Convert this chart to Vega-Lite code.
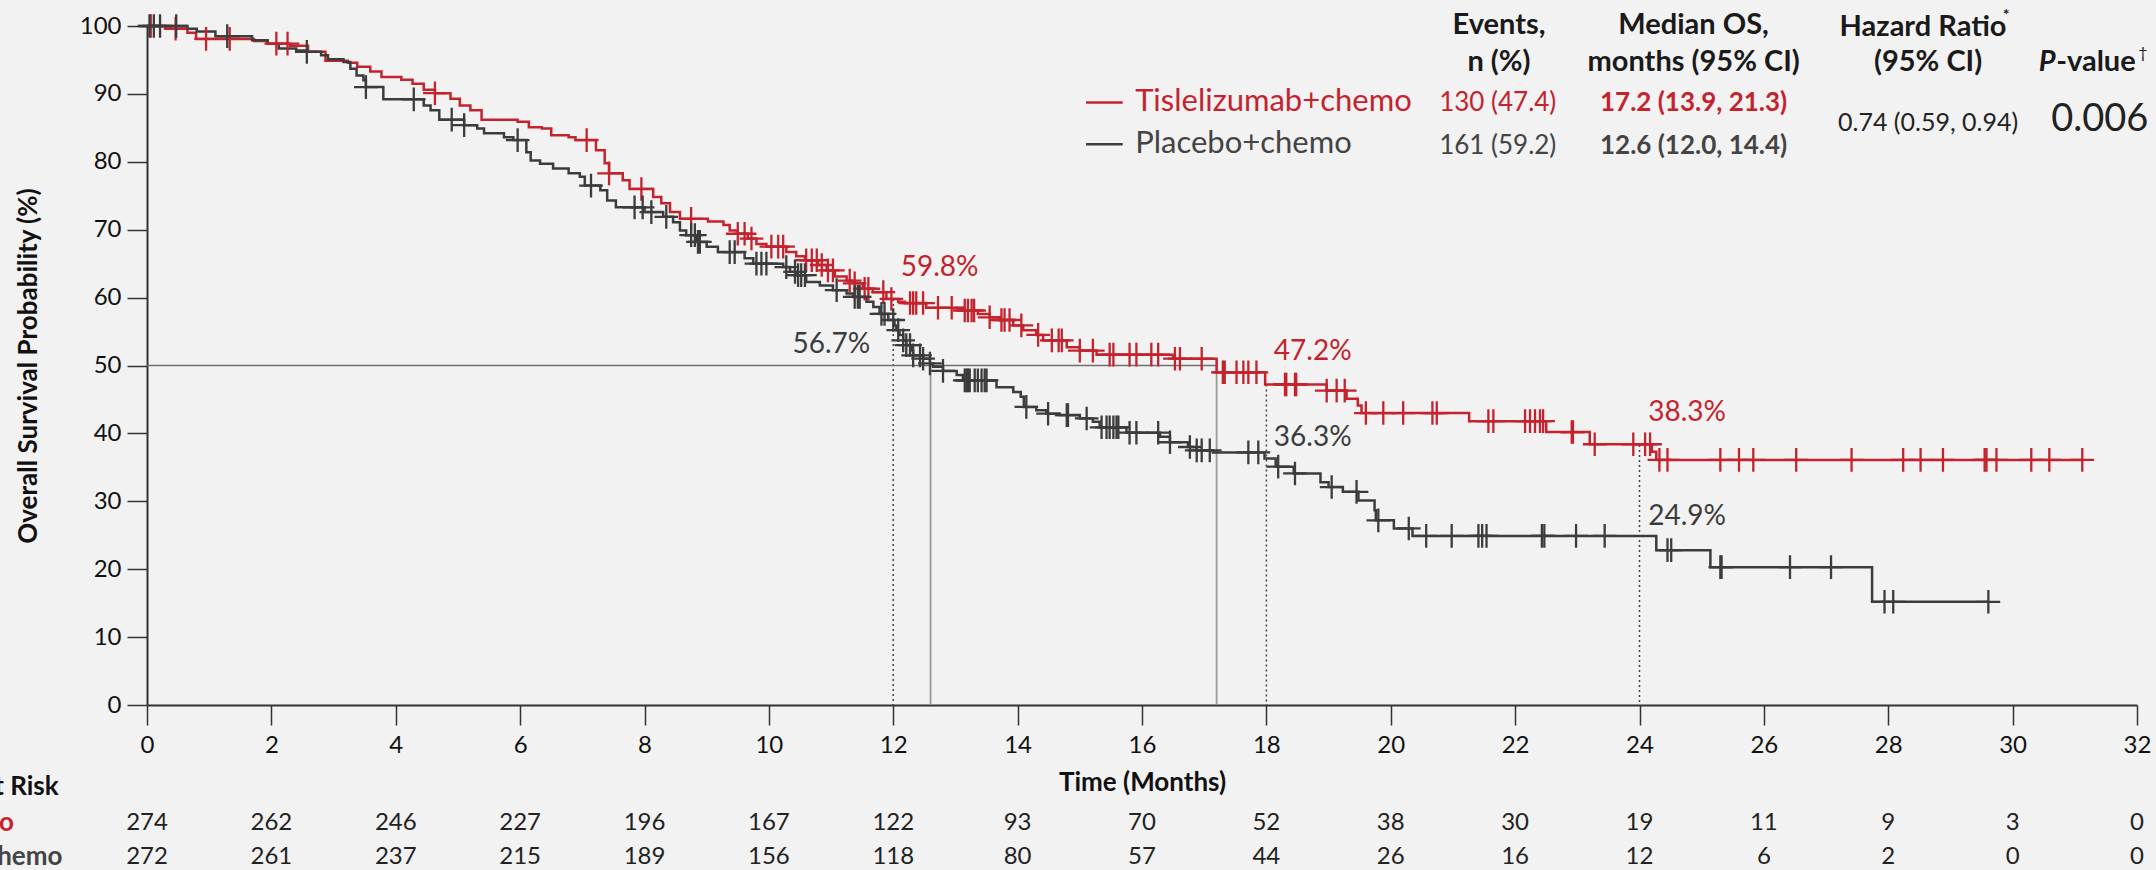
{
  "$schema": "https://vega.github.io/schema/vega-lite/v6.json",
  "width": 1990,
  "height": 679,
  "autosize": {"type": "none"},
  "padding": {"left": 147, "top": 26, "right": 19, "bottom": 165},
  "background": "#f2f2f2",
  "config": {
    "view": {"stroke": null}, "font": "Lato", "text": {"font": "Lato"},
    "axisX": {"titleFont": "Lato", "titleFontSize": 26, "titleFontWeight": "bold", "titleColor": "#111111", "titlePadding": 12,
      "labelFont": "Lato", "labelFontSize": 24, "labelColor": "#111111", "labelPadding": 8, "labelFlush": false, "labelOverlap": false,
      "tickSize": 20, "tickColor": "#333333", "tickWidth": 1.5, "domainColor": "#333333", "domainWidth": 2, "grid": false},
    "axisY": {"titleFont": "Lato", "titleFontSize": 26, "titleFontWeight": "bold", "titleColor": "#111111", "titlePadding": 38,
      "labelFont": "Lato", "labelFontSize": 24, "labelColor": "#111111", "labelPadding": 6, "labelFlush": false, "labelOverlap": false,
      "tickSize": 20, "tickColor": "#333333", "tickWidth": 1.5, "domainColor": "#333333", "domainWidth": 2, "grid": false}
  },
  "datasets": {
    "km": [
      {"arm":"Tislelizumab+chemo","t":0,"s":100},{"arm":"Tislelizumab+chemo","t":0.3,"s":99.6},{"arm":"Tislelizumab+chemo","t":0.65,"s":99.0},{"arm":"Tislelizumab+chemo","t":0.79,"s":98.1},{"arm":"Tislelizumab+chemo","t":1.72,"s":97.8},{"arm":"Tislelizumab+chemo","t":1.94,"s":97.4},{"arm":"Tislelizumab+chemo","t":2.3,"s":97.1},{"arm":"Tislelizumab+chemo","t":2.59,"s":96.2},{"arm":"Tislelizumab+chemo","t":2.87,"s":94.9},{"arm":"Tislelizumab+chemo","t":3.23,"s":94.6},{"arm":"Tislelizumab+chemo","t":3.38,"s":94.0},{"arm":"Tislelizumab+chemo","t":3.59,"s":93.3},{"arm":"Tislelizumab+chemo","t":3.77,"s":92.5},{"arm":"Tislelizumab+chemo","t":4.09,"s":92.1},{"arm":"Tislelizumab+chemo","t":4.27,"s":91.5},{"arm":"Tislelizumab+chemo","t":4.45,"s":90.6},{"arm":"Tislelizumab+chemo","t":4.63,"s":90.1},{"arm":"Tislelizumab+chemo","t":4.88,"s":89.3},{"arm":"Tislelizumab+chemo","t":5.03,"s":88.3},{"arm":"Tislelizumab+chemo","t":5.2,"s":87.6},{"arm":"Tislelizumab+chemo","t":5.38,"s":86.2},{"arm":"Tislelizumab+chemo","t":5.96,"s":85.9},{"arm":"Tislelizumab+chemo","t":6.14,"s":85.1},{"arm":"Tislelizumab+chemo","t":6.35,"s":84.9},{"arm":"Tislelizumab+chemo","t":6.5,"s":83.9},{"arm":"Tislelizumab+chemo","t":6.78,"s":83.6},{"arm":"Tislelizumab+chemo","t":6.89,"s":83.2},{"arm":"Tislelizumab+chemo","t":7.22,"s":81.7},{"arm":"Tislelizumab+chemo","t":7.36,"s":79.8},{"arm":"Tislelizumab+chemo","t":7.43,"s":78.3},{"arm":"Tislelizumab+chemo","t":7.65,"s":77.3},{"arm":"Tislelizumab+chemo","t":7.76,"s":76.0},{"arm":"Tislelizumab+chemo","t":8.14,"s":74.8},{"arm":"Tislelizumab+chemo","t":8.27,"s":73.9},{"arm":"Tislelizumab+chemo","t":8.41,"s":72.6},{"arm":"Tislelizumab+chemo","t":8.57,"s":71.6},{"arm":"Tislelizumab+chemo","t":9.02,"s":71.2},{"arm":"Tislelizumab+chemo","t":9.27,"s":70.7},{"arm":"Tislelizumab+chemo","t":9.37,"s":69.9},{"arm":"Tislelizumab+chemo","t":9.5,"s":69.4},{"arm":"Tislelizumab+chemo","t":9.66,"s":68.7},{"arm":"Tislelizumab+chemo","t":9.8,"s":67.9},{"arm":"Tislelizumab+chemo","t":9.96,"s":67.5},{"arm":"Tislelizumab+chemo","t":10.28,"s":66.7},{"arm":"Tislelizumab+chemo","t":10.44,"s":66.1},{"arm":"Tislelizumab+chemo","t":10.58,"s":65.5},{"arm":"Tislelizumab+chemo","t":10.79,"s":64.8},{"arm":"Tislelizumab+chemo","t":10.93,"s":64.0},{"arm":"Tislelizumab+chemo","t":11.06,"s":63.1},{"arm":"Tislelizumab+chemo","t":11.25,"s":62.5},{"arm":"Tislelizumab+chemo","t":11.35,"s":62.1},{"arm":"Tislelizumab+chemo","t":11.51,"s":61.3},{"arm":"Tislelizumab+chemo","t":11.67,"s":60.8},{"arm":"Tislelizumab+chemo","t":11.89,"s":59.8},{"arm":"Tislelizumab+chemo","t":12.08,"s":59.4},{"arm":"Tislelizumab+chemo","t":12.19,"s":59.2},{"arm":"Tislelizumab+chemo","t":12.53,"s":58.5},{"arm":"Tislelizumab+chemo","t":13.12,"s":58.1},{"arm":"Tislelizumab+chemo","t":13.36,"s":57.6},{"arm":"Tislelizumab+chemo","t":13.55,"s":57.1},{"arm":"Tislelizumab+chemo","t":13.71,"s":56.7},{"arm":"Tislelizumab+chemo","t":13.93,"s":55.9},{"arm":"Tislelizumab+chemo","t":14.09,"s":55.2},{"arm":"Tislelizumab+chemo","t":14.3,"s":54.5},{"arm":"Tislelizumab+chemo","t":14.41,"s":53.7},{"arm":"Tislelizumab+chemo","t":14.79,"s":52.7},{"arm":"Tislelizumab+chemo","t":15.0,"s":52.2},{"arm":"Tislelizumab+chemo","t":15.27,"s":51.6},{"arm":"Tislelizumab+chemo","t":16.5,"s":51.0},{"arm":"Tislelizumab+chemo","t":17.2,"s":49.0},{"arm":"Tislelizumab+chemo","t":17.98,"s":47.2},{"arm":"Tislelizumab+chemo","t":18.97,"s":46.3},{"arm":"Tislelizumab+chemo","t":19.29,"s":45.1},{"arm":"Tislelizumab+chemo","t":19.47,"s":44.1},{"arm":"Tislelizumab+chemo","t":19.53,"s":43.0},{"arm":"Tislelizumab+chemo","t":21.26,"s":41.8},{"arm":"Tislelizumab+chemo","t":22.5,"s":40.2},{"arm":"Tislelizumab+chemo","t":23.2,"s":38.4},{"arm":"Tislelizumab+chemo","t":24.2,"s":37.3},{"arm":"Tislelizumab+chemo","t":24.27,"s":36.1},{"arm":"Tislelizumab+chemo","t":31.12,"s":36.1},
      {"arm":"Placebo+chemo","t":0,"s":100},{"arm":"Placebo+chemo","t":0.65,"s":99.6},{"arm":"Placebo+chemo","t":0.8,"s":99.2},{"arm":"Placebo+chemo","t":1.1,"s":98.5},{"arm":"Placebo+chemo","t":1.69,"s":97.9},{"arm":"Placebo+chemo","t":1.94,"s":97.4},{"arm":"Placebo+chemo","t":2.12,"s":96.7},{"arm":"Placebo+chemo","t":2.4,"s":96.4},{"arm":"Placebo+chemo","t":2.55,"s":96.2},{"arm":"Placebo+chemo","t":2.8,"s":95.7},{"arm":"Placebo+chemo","t":2.91,"s":95.1},{"arm":"Placebo+chemo","t":3.16,"s":94.7},{"arm":"Placebo+chemo","t":3.27,"s":93.7},{"arm":"Placebo+chemo","t":3.37,"s":92.7},{"arm":"Placebo+chemo","t":3.48,"s":92.0},{"arm":"Placebo+chemo","t":3.52,"s":91.0},{"arm":"Placebo+chemo","t":3.8,"s":89.2},{"arm":"Placebo+chemo","t":4.45,"s":88.3},{"arm":"Placebo+chemo","t":4.56,"s":87.6},{"arm":"Placebo+chemo","t":4.7,"s":86.2},{"arm":"Placebo+chemo","t":5.1,"s":85.4},{"arm":"Placebo+chemo","t":5.31,"s":84.9},{"arm":"Placebo+chemo","t":5.42,"s":84.2},{"arm":"Placebo+chemo","t":5.74,"s":83.6},{"arm":"Placebo+chemo","t":5.89,"s":83.2},{"arm":"Placebo+chemo","t":6.1,"s":81.4},{"arm":"Placebo+chemo","t":6.17,"s":80.2},{"arm":"Placebo+chemo","t":6.32,"s":79.7},{"arm":"Placebo+chemo","t":6.53,"s":79.0},{"arm":"Placebo+chemo","t":6.78,"s":78.3},{"arm":"Placebo+chemo","t":6.96,"s":77.8},{"arm":"Placebo+chemo","t":7.04,"s":76.5},{"arm":"Placebo+chemo","t":7.29,"s":75.8},{"arm":"Placebo+chemo","t":7.4,"s":74.3},{"arm":"Placebo+chemo","t":7.54,"s":73.3},{"arm":"Placebo+chemo","t":8.0,"s":72.6},{"arm":"Placebo+chemo","t":8.3,"s":71.9},{"arm":"Placebo+chemo","t":8.46,"s":71.1},{"arm":"Placebo+chemo","t":8.57,"s":69.9},{"arm":"Placebo+chemo","t":8.67,"s":69.2},{"arm":"Placebo+chemo","t":8.84,"s":68.2},{"arm":"Placebo+chemo","t":9.0,"s":67.5},{"arm":"Placebo+chemo","t":9.18,"s":66.7},{"arm":"Placebo+chemo","t":9.61,"s":65.8},{"arm":"Placebo+chemo","t":9.75,"s":65.0},{"arm":"Placebo+chemo","t":10.23,"s":64.5},{"arm":"Placebo+chemo","t":10.34,"s":63.8},{"arm":"Placebo+chemo","t":10.44,"s":63.3},{"arm":"Placebo+chemo","t":10.6,"s":62.3},{"arm":"Placebo+chemo","t":10.82,"s":61.8},{"arm":"Placebo+chemo","t":11.03,"s":61.1},{"arm":"Placebo+chemo","t":11.25,"s":60.6},{"arm":"Placebo+chemo","t":11.36,"s":60.1},{"arm":"Placebo+chemo","t":11.57,"s":59.4},{"arm":"Placebo+chemo","t":11.68,"s":58.6},{"arm":"Placebo+chemo","t":11.78,"s":57.6},{"arm":"Placebo+chemo","t":11.92,"s":56.7},{"arm":"Placebo+chemo","t":12.02,"s":55.9},{"arm":"Placebo+chemo","t":12.05,"s":55.2},{"arm":"Placebo+chemo","t":12.1,"s":54.5},{"arm":"Placebo+chemo","t":12.16,"s":53.7},{"arm":"Placebo+chemo","t":12.21,"s":53.0},{"arm":"Placebo+chemo","t":12.29,"s":52.2},{"arm":"Placebo+chemo","t":12.32,"s":51.5},{"arm":"Placebo+chemo","t":12.48,"s":51.0},{"arm":"Placebo+chemo","t":12.59,"s":50.3},{"arm":"Placebo+chemo","t":12.64,"s":49.8},{"arm":"Placebo+chemo","t":12.8,"s":49.2},{"arm":"Placebo+chemo","t":13.02,"s":48.6},{"arm":"Placebo+chemo","t":13.12,"s":47.8},{"arm":"Placebo+chemo","t":13.66,"s":46.8},{"arm":"Placebo+chemo","t":13.93,"s":46.1},{"arm":"Placebo+chemo","t":14.05,"s":45.4},{"arm":"Placebo+chemo","t":14.1,"s":43.9},{"arm":"Placebo+chemo","t":14.3,"s":43.4},{"arm":"Placebo+chemo","t":14.46,"s":42.9},{"arm":"Placebo+chemo","t":14.68,"s":42.7},{"arm":"Placebo+chemo","t":15.0,"s":42.2},{"arm":"Placebo+chemo","t":15.21,"s":41.7},{"arm":"Placebo+chemo","t":15.32,"s":40.9},{"arm":"Placebo+chemo","t":15.75,"s":40.1},{"arm":"Placebo+chemo","t":16.29,"s":39.5},{"arm":"Placebo+chemo","t":16.45,"s":38.7},{"arm":"Placebo+chemo","t":16.74,"s":38.0},{"arm":"Placebo+chemo","t":16.88,"s":37.5},{"arm":"Placebo+chemo","t":17.14,"s":37.2},{"arm":"Placebo+chemo","t":17.97,"s":36.3},{"arm":"Placebo+chemo","t":18.15,"s":35.1},{"arm":"Placebo+chemo","t":18.44,"s":34.1},{"arm":"Placebo+chemo","t":18.87,"s":32.8},{"arm":"Placebo+chemo","t":19.0,"s":32.1},{"arm":"Placebo+chemo","t":19.23,"s":31.4},{"arm":"Placebo+chemo","t":19.48,"s":30.1},{"arm":"Placebo+chemo","t":19.74,"s":28.7},{"arm":"Placebo+chemo","t":19.76,"s":27.2},{"arm":"Placebo+chemo","t":20.05,"s":26.0},{"arm":"Placebo+chemo","t":20.35,"s":24.9},{"arm":"Placebo+chemo","t":24.27,"s":22.8},{"arm":"Placebo+chemo","t":25.14,"s":20.3},{"arm":"Placebo+chemo","t":27.74,"s":15.2},{"arm":"Placebo+chemo","t":29.61,"s":15.2}
    ],
    "censor": [
      {"arm":"Tislelizumab+chemo","t":0.06,"s":100},{"arm":"Tislelizumab+chemo","t":0.46,"s":99.6},{"arm":"Tislelizumab+chemo","t":0.95,"s":98.1},{"arm":"Tislelizumab+chemo","t":1.33,"s":98.1},{"arm":"Tislelizumab+chemo","t":2.08,"s":97.4},{"arm":"Tislelizumab+chemo","t":2.26,"s":97.4},{"arm":"Tislelizumab+chemo","t":4.63,"s":90.1},{"arm":"Tislelizumab+chemo","t":7.07,"s":83.2},{"arm":"Tislelizumab+chemo","t":7.43,"s":78.3},{"arm":"Tislelizumab+chemo","t":7.95,"s":76.0},{"arm":"Tislelizumab+chemo","t":8.75,"s":71.6},{"arm":"Tislelizumab+chemo","t":9.5,"s":69.4},{"arm":"Tislelizumab+chemo","t":9.61,"s":69.4},{"arm":"Tislelizumab+chemo","t":9.72,"s":68.7},{"arm":"Tislelizumab+chemo","t":10.04,"s":67.5},{"arm":"Tislelizumab+chemo","t":10.15,"s":67.5},{"arm":"Tislelizumab+chemo","t":10.23,"s":67.5},{"arm":"Tislelizumab+chemo","t":10.6,"s":65.5},{"arm":"Tislelizumab+chemo","t":10.69,"s":65.5},{"arm":"Tislelizumab+chemo","t":10.77,"s":65.5},{"arm":"Tislelizumab+chemo","t":10.85,"s":64.8},{"arm":"Tislelizumab+chemo","t":10.95,"s":64.0},{"arm":"Tislelizumab+chemo","t":11.03,"s":64.0},{"arm":"Tislelizumab+chemo","t":11.3,"s":62.5},{"arm":"Tislelizumab+chemo","t":11.38,"s":62.1},{"arm":"Tislelizumab+chemo","t":11.54,"s":61.3},{"arm":"Tislelizumab+chemo","t":11.6,"s":61.3},{"arm":"Tislelizumab+chemo","t":11.84,"s":60.8},{"arm":"Tislelizumab+chemo","t":11.97,"s":59.8},{"arm":"Tislelizumab+chemo","t":12.27,"s":59.2},{"arm":"Tislelizumab+chemo","t":12.32,"s":59.2},{"arm":"Tislelizumab+chemo","t":12.37,"s":59.2},{"arm":"Tislelizumab+chemo","t":12.48,"s":59.2},{"arm":"Tislelizumab+chemo","t":12.72,"s":58.5},{"arm":"Tislelizumab+chemo","t":12.94,"s":58.5},{"arm":"Tislelizumab+chemo","t":13.15,"s":58.1},{"arm":"Tislelizumab+chemo","t":13.2,"s":58.1},{"arm":"Tislelizumab+chemo","t":13.26,"s":58.1},{"arm":"Tislelizumab+chemo","t":13.3,"s":58.1},{"arm":"Tislelizumab+chemo","t":13.55,"s":57.1},{"arm":"Tislelizumab+chemo","t":13.74,"s":56.7},{"arm":"Tislelizumab+chemo","t":13.79,"s":56.7},{"arm":"Tislelizumab+chemo","t":13.87,"s":56.7},{"arm":"Tislelizumab+chemo","t":14.06,"s":55.9},{"arm":"Tislelizumab+chemo","t":14.33,"s":54.5},{"arm":"Tislelizumab+chemo","t":14.55,"s":53.7},{"arm":"Tislelizumab+chemo","t":14.66,"s":53.7},{"arm":"Tislelizumab+chemo","t":14.71,"s":53.7},{"arm":"Tislelizumab+chemo","t":15.0,"s":52.2},{"arm":"Tislelizumab+chemo","t":15.21,"s":52.2},{"arm":"Tislelizumab+chemo","t":15.48,"s":51.6},{"arm":"Tislelizumab+chemo","t":15.54,"s":51.6},{"arm":"Tislelizumab+chemo","t":15.8,"s":51.6},{"arm":"Tislelizumab+chemo","t":15.91,"s":51.6},{"arm":"Tislelizumab+chemo","t":16.15,"s":51.6},{"arm":"Tislelizumab+chemo","t":16.26,"s":51.6},{"arm":"Tislelizumab+chemo","t":16.53,"s":51.0},{"arm":"Tislelizumab+chemo","t":16.61,"s":51.0},{"arm":"Tislelizumab+chemo","t":16.96,"s":51.0},{"arm":"Tislelizumab+chemo","t":17.3,"s":49.0},{"arm":"Tislelizumab+chemo","t":17.33,"s":49.0},{"arm":"Tislelizumab+chemo","t":17.52,"s":49.0},{"arm":"Tislelizumab+chemo","t":17.63,"s":49.0},{"arm":"Tislelizumab+chemo","t":17.71,"s":49.0},{"arm":"Tislelizumab+chemo","t":17.84,"s":49.0},{"arm":"Tislelizumab+chemo","t":18.3,"s":47.2},{"arm":"Tislelizumab+chemo","t":18.32,"s":47.2},{"arm":"Tislelizumab+chemo","t":18.46,"s":47.2},{"arm":"Tislelizumab+chemo","t":18.48,"s":47.2},{"arm":"Tislelizumab+chemo","t":18.97,"s":46.3},{"arm":"Tislelizumab+chemo","t":19.13,"s":46.3},{"arm":"Tislelizumab+chemo","t":19.26,"s":46.3},{"arm":"Tislelizumab+chemo","t":19.6,"s":43.0},{"arm":"Tislelizumab+chemo","t":19.88,"s":43.0},{"arm":"Tislelizumab+chemo","t":20.2,"s":43.0},{"arm":"Tislelizumab+chemo","t":20.67,"s":43.0},{"arm":"Tislelizumab+chemo","t":20.74,"s":43.0},{"arm":"Tislelizumab+chemo","t":21.57,"s":41.8},{"arm":"Tislelizumab+chemo","t":21.65,"s":41.8},{"arm":"Tislelizumab+chemo","t":22.16,"s":41.8},{"arm":"Tislelizumab+chemo","t":22.24,"s":41.8},{"arm":"Tislelizumab+chemo","t":22.32,"s":41.8},{"arm":"Tislelizumab+chemo","t":22.4,"s":41.8},{"arm":"Tislelizumab+chemo","t":22.45,"s":41.8},{"arm":"Tislelizumab+chemo","t":22.91,"s":40.2},{"arm":"Tislelizumab+chemo","t":22.93,"s":40.2},{"arm":"Tislelizumab+chemo","t":23.28,"s":38.4},{"arm":"Tislelizumab+chemo","t":23.9,"s":38.4},{"arm":"Tislelizumab+chemo","t":24.09,"s":38.4},{"arm":"Tislelizumab+chemo","t":24.17,"s":38.4},{"arm":"Tislelizumab+chemo","t":24.32,"s":36.1},{"arm":"Tislelizumab+chemo","t":24.45,"s":36.1},{"arm":"Tislelizumab+chemo","t":25.3,"s":36.1},{"arm":"Tislelizumab+chemo","t":25.6,"s":36.1},{"arm":"Tislelizumab+chemo","t":25.83,"s":36.1},{"arm":"Tislelizumab+chemo","t":26.52,"s":36.1},{"arm":"Tislelizumab+chemo","t":27.41,"s":36.1},{"arm":"Tislelizumab+chemo","t":28.24,"s":36.1},{"arm":"Tislelizumab+chemo","t":28.52,"s":36.1},{"arm":"Tislelizumab+chemo","t":28.88,"s":36.1},{"arm":"Tislelizumab+chemo","t":29.55,"s":36.1},{"arm":"Tislelizumab+chemo","t":29.58,"s":36.1},{"arm":"Tislelizumab+chemo","t":29.74,"s":36.1},{"arm":"Tislelizumab+chemo","t":30.3,"s":36.1},{"arm":"Tislelizumab+chemo","t":30.59,"s":36.1},{"arm":"Tislelizumab+chemo","t":31.12,"s":36.1},
      {"arm":"Placebo+chemo","t":0.04,"s":100},{"arm":"Placebo+chemo","t":0.11,"s":100},{"arm":"Placebo+chemo","t":0.21,"s":100},{"arm":"Placebo+chemo","t":0.47,"s":100},{"arm":"Placebo+chemo","t":1.29,"s":98.5},{"arm":"Placebo+chemo","t":2.57,"s":96.2},{"arm":"Placebo+chemo","t":3.52,"s":91.0},{"arm":"Placebo+chemo","t":4.29,"s":89.2},{"arm":"Placebo+chemo","t":4.9,"s":86.2},{"arm":"Placebo+chemo","t":5.1,"s":85.4},{"arm":"Placebo+chemo","t":5.96,"s":83.2},{"arm":"Placebo+chemo","t":7.14,"s":76.5},{"arm":"Placebo+chemo","t":7.84,"s":73.3},{"arm":"Placebo+chemo","t":7.97,"s":73.3},{"arm":"Placebo+chemo","t":8.11,"s":72.6},{"arm":"Placebo+chemo","t":8.35,"s":71.9},{"arm":"Placebo+chemo","t":8.75,"s":69.2},{"arm":"Placebo+chemo","t":8.81,"s":69.2},{"arm":"Placebo+chemo","t":8.86,"s":68.2},{"arm":"Placebo+chemo","t":8.89,"s":68.2},{"arm":"Placebo+chemo","t":9.37,"s":66.7},{"arm":"Placebo+chemo","t":9.45,"s":66.7},{"arm":"Placebo+chemo","t":9.8,"s":65.0},{"arm":"Placebo+chemo","t":9.88,"s":65.0},{"arm":"Placebo+chemo","t":9.96,"s":65.0},{"arm":"Placebo+chemo","t":10.28,"s":64.5},{"arm":"Placebo+chemo","t":10.42,"s":63.8},{"arm":"Placebo+chemo","t":10.47,"s":63.3},{"arm":"Placebo+chemo","t":10.52,"s":63.3},{"arm":"Placebo+chemo","t":10.58,"s":63.3},{"arm":"Placebo+chemo","t":11.09,"s":61.1},{"arm":"Placebo+chemo","t":11.38,"s":60.1},{"arm":"Placebo+chemo","t":11.43,"s":60.1},{"arm":"Placebo+chemo","t":11.46,"s":60.1},{"arm":"Placebo+chemo","t":11.81,"s":57.6},{"arm":"Placebo+chemo","t":11.86,"s":57.6},{"arm":"Placebo+chemo","t":12.0,"s":56.7},{"arm":"Placebo+chemo","t":12.08,"s":55.2},{"arm":"Placebo+chemo","t":12.16,"s":53.7},{"arm":"Placebo+chemo","t":12.21,"s":53.0},{"arm":"Placebo+chemo","t":12.27,"s":53.0},{"arm":"Placebo+chemo","t":12.32,"s":51.5},{"arm":"Placebo+chemo","t":12.43,"s":51.5},{"arm":"Placebo+chemo","t":12.48,"s":51.0},{"arm":"Placebo+chemo","t":12.59,"s":50.3},{"arm":"Placebo+chemo","t":12.8,"s":49.2},{"arm":"Placebo+chemo","t":13.15,"s":47.8},{"arm":"Placebo+chemo","t":13.18,"s":47.8},{"arm":"Placebo+chemo","t":13.2,"s":47.8},{"arm":"Placebo+chemo","t":13.23,"s":47.8},{"arm":"Placebo+chemo","t":13.31,"s":47.8},{"arm":"Placebo+chemo","t":13.36,"s":47.8},{"arm":"Placebo+chemo","t":13.42,"s":47.8},{"arm":"Placebo+chemo","t":13.47,"s":47.8},{"arm":"Placebo+chemo","t":13.5,"s":47.8},{"arm":"Placebo+chemo","t":14.14,"s":43.9},{"arm":"Placebo+chemo","t":14.49,"s":42.9},{"arm":"Placebo+chemo","t":14.79,"s":42.7},{"arm":"Placebo+chemo","t":14.81,"s":42.7},{"arm":"Placebo+chemo","t":15.11,"s":42.2},{"arm":"Placebo+chemo","t":15.35,"s":40.9},{"arm":"Placebo+chemo","t":15.43,"s":40.9},{"arm":"Placebo+chemo","t":15.48,"s":40.9},{"arm":"Placebo+chemo","t":15.54,"s":40.9},{"arm":"Placebo+chemo","t":15.59,"s":40.9},{"arm":"Placebo+chemo","t":15.62,"s":40.9},{"arm":"Placebo+chemo","t":15.8,"s":40.1},{"arm":"Placebo+chemo","t":15.91,"s":40.1},{"arm":"Placebo+chemo","t":16.26,"s":40.1},{"arm":"Placebo+chemo","t":16.45,"s":38.7},{"arm":"Placebo+chemo","t":16.77,"s":38.0},{"arm":"Placebo+chemo","t":16.88,"s":37.5},{"arm":"Placebo+chemo","t":16.96,"s":37.5},{"arm":"Placebo+chemo","t":17.09,"s":37.5},{"arm":"Placebo+chemo","t":17.71,"s":37.2},{"arm":"Placebo+chemo","t":17.87,"s":37.2},{"arm":"Placebo+chemo","t":18.19,"s":35.1},{"arm":"Placebo+chemo","t":18.46,"s":34.1},{"arm":"Placebo+chemo","t":19.05,"s":32.1},{"arm":"Placebo+chemo","t":19.45,"s":31.4},{"arm":"Placebo+chemo","t":19.8,"s":27.2},{"arm":"Placebo+chemo","t":20.29,"s":26.0},{"arm":"Placebo+chemo","t":20.57,"s":24.9},{"arm":"Placebo+chemo","t":20.98,"s":24.9},{"arm":"Placebo+chemo","t":21.41,"s":24.9},{"arm":"Placebo+chemo","t":21.47,"s":24.9},{"arm":"Placebo+chemo","t":21.54,"s":24.9},{"arm":"Placebo+chemo","t":22.43,"s":24.9},{"arm":"Placebo+chemo","t":22.47,"s":24.9},{"arm":"Placebo+chemo","t":22.98,"s":24.9},{"arm":"Placebo+chemo","t":23.44,"s":24.9},{"arm":"Placebo+chemo","t":24.45,"s":22.8},{"arm":"Placebo+chemo","t":24.51,"s":22.8},{"arm":"Placebo+chemo","t":25.3,"s":20.3},{"arm":"Placebo+chemo","t":25.32,"s":20.3},{"arm":"Placebo+chemo","t":26.42,"s":20.3},{"arm":"Placebo+chemo","t":27.08,"s":20.3},{"arm":"Placebo+chemo","t":27.94,"s":15.2},{"arm":"Placebo+chemo","t":28.08,"s":15.2},{"arm":"Placebo+chemo","t":29.61,"s":15.2}
    ],
    "risk": [
      {"arm":"Tislelizumab+chemo","t":0,"n":274},{"arm":"Tislelizumab+chemo","t":2,"n":262},{"arm":"Tislelizumab+chemo","t":4,"n":246},{"arm":"Tislelizumab+chemo","t":6,"n":227},{"arm":"Tislelizumab+chemo","t":8,"n":196},{"arm":"Tislelizumab+chemo","t":10,"n":167},{"arm":"Tislelizumab+chemo","t":12,"n":122},{"arm":"Tislelizumab+chemo","t":14,"n":93},{"arm":"Tislelizumab+chemo","t":16,"n":70},{"arm":"Tislelizumab+chemo","t":18,"n":52},{"arm":"Tislelizumab+chemo","t":20,"n":38},{"arm":"Tislelizumab+chemo","t":22,"n":30},{"arm":"Tislelizumab+chemo","t":24,"n":19},{"arm":"Tislelizumab+chemo","t":26,"n":11},{"arm":"Tislelizumab+chemo","t":28,"n":9},{"arm":"Tislelizumab+chemo","t":30,"n":3},{"arm":"Tislelizumab+chemo","t":32,"n":0},
      {"arm":"Placebo+chemo","t":0,"n":272},{"arm":"Placebo+chemo","t":2,"n":261},{"arm":"Placebo+chemo","t":4,"n":237},{"arm":"Placebo+chemo","t":6,"n":215},{"arm":"Placebo+chemo","t":8,"n":189},{"arm":"Placebo+chemo","t":10,"n":156},{"arm":"Placebo+chemo","t":12,"n":118},{"arm":"Placebo+chemo","t":14,"n":80},{"arm":"Placebo+chemo","t":16,"n":57},{"arm":"Placebo+chemo","t":18,"n":44},{"arm":"Placebo+chemo","t":20,"n":26},{"arm":"Placebo+chemo","t":22,"n":16},{"arm":"Placebo+chemo","t":24,"n":12},{"arm":"Placebo+chemo","t":26,"n":6},{"arm":"Placebo+chemo","t":28,"n":2},{"arm":"Placebo+chemo","t":30,"n":0},{"arm":"Placebo+chemo","t":32,"n":0}
    ]
  },
  "layer": [
    {
      "data": {"values": [{"t":12,"s":59.8},{"t":18,"s":47.2},{"t":24,"s":38.3}]},
      "mark": {"type": "rule", "strokeDash": [2, 3], "strokeWidth": 1.5, "color": "#444444"},
      "encoding": {
        "x": {"field": "t", "type": "quantitative", "scale": {"domain": [0, 32], "nice": false, "zero": false}, "title": "Time (Months)",
          "axis": {"values": [0,2,4,6,8,10,12,14,16,18,20,22,24,26,28,30,32], "format": "d"}},
        "y": {"field": "s", "type": "quantitative", "scale": {"domain": [0, 100], "nice": false}, "title": "Overall Survival Probability (%)",
          "axis": {"values": [0,10,20,30,40,50,60,70,80,90,100], "format": "d"}},
        "y2": {"datum": 0}
      }
    },
    {
      "data": {"values": [{"t":12.6},{"t":17.2}]},
      "mark": {"type": "rule", "strokeWidth": 1.8, "color": "#9a9a9a"},
      "encoding": {"x": {"field": "t", "type": "quantitative", "title": "Time (Months)"}, "y": {"datum": 50, "type": "quantitative"}, "y2": {"datum": 0}}
    },
    {
      "data": {"values": [{}]},
      "mark": {"type": "rule", "strokeWidth": 1.5, "color": "#707070"},
      "encoding": {"x": {"datum": 0, "type": "quantitative"}, "x2": {"datum": 17.2}, "y": {"datum": 50, "type": "quantitative"}}
    },
    {
      "data": {"name": "km"},
      "mark": {"type": "line", "interpolate": "step-after", "strokeWidth": 2.5},
      "encoding": {
        "x": {"field": "t", "type": "quantitative", "title": "Time (Months)"},
        "y": {"field": "s", "type": "quantitative", "title": "Overall Survival Probability (%)"},
        "color": {"field": "arm", "type": "nominal", "scale": {"domain": ["Tislelizumab+chemo", "Placebo+chemo"], "range": ["#c4232e", "#3c3c3c"]}, "legend": null},
        "order": {"field": "t", "type": "quantitative"}
      }
    },
    {
      "data": {"name": "censor"},
      "mark": {"type": "point", "shape": "M-1,0L1,0M0,-1L0,1", "filled": false, "size": 560, "strokeWidth": 2.3, "opacity": 1},
      "encoding": {
        "x": {"field": "t", "type": "quantitative", "title": "Time (Months)"},
        "y": {"field": "s", "type": "quantitative", "title": "Overall Survival Probability (%)"},
        "color": {"field": "arm", "type": "nominal", "legend": null}
      }
    },
    {"data": {"values": [{}]}, "mark": {"type": "text", "text": "59.8%", "fontSize": 28, "color": "#c4232e", "align": "left", "baseline": "middle"},
     "encoding": {"x": {"datum": 12.12, "type": "quantitative"}, "y": {"datum": 64.4, "type": "quantitative"}}},
    {"data": {"values": [{}]}, "mark": {"type": "text", "text": "56.7%", "fontSize": 28, "color": "#3c3c3c", "align": "right", "baseline": "middle"},
     "encoding": {"x": {"datum": 11.63, "type": "quantitative"}, "y": {"datum": 53.0, "type": "quantitative"}}},
    {"data": {"values": [{}]}, "mark": {"type": "text", "text": "47.2%", "fontSize": 28, "color": "#c4232e", "align": "left", "baseline": "middle"},
     "encoding": {"x": {"datum": 18.12, "type": "quantitative"}, "y": {"datum": 52.0, "type": "quantitative"}}},
    {"data": {"values": [{}]}, "mark": {"type": "text", "text": "36.3%", "fontSize": 28, "color": "#3c3c3c", "align": "left", "baseline": "middle"},
     "encoding": {"x": {"datum": 18.12, "type": "quantitative"}, "y": {"datum": 39.3, "type": "quantitative"}}},
    {"data": {"values": [{}]}, "mark": {"type": "text", "text": "38.3%", "fontSize": 28, "color": "#c4232e", "align": "left", "baseline": "middle"},
     "encoding": {"x": {"datum": 24.14, "type": "quantitative"}, "y": {"datum": 43.0, "type": "quantitative"}}},
    {"data": {"values": [{}]}, "mark": {"type": "text", "text": "24.9%", "fontSize": 28, "color": "#3c3c3c", "align": "left", "baseline": "middle"},
     "encoding": {"x": {"datum": 24.14, "type": "quantitative"}, "y": {"datum": 27.7, "type": "quantitative"}}},
    {"data": {"values": [{}]}, "mark": {"type": "rule", "strokeWidth": 2.5, "color": "#c4232e"},
     "encoding": {"x": {"datum": 15.10, "type": "quantitative"}, "x2": {"datum": 15.69}, "y": {"datum": 88.75, "type": "quantitative"}}},
    {"data": {"values": [{}]}, "mark": {"type": "rule", "strokeWidth": 2.5, "color": "#3c3c3c"},
     "encoding": {"x": {"datum": 15.10, "type": "quantitative"}, "x2": {"datum": 15.69}, "y": {"datum": 82.6, "type": "quantitative"}}},
    {"data": {"values": [{}]}, "mark": {"type": "text", "text": "Tislelizumab+chemo", "fontSize": 31, "color": "#c4232e", "align": "left", "baseline": "middle"},
     "encoding": {"x": {"datum": 15.89, "type": "quantitative"}, "y": {"datum": 88.75, "type": "quantitative"}}},
    {"data": {"values": [{}]}, "mark": {"type": "text", "text": "Placebo+chemo", "fontSize": 31, "color": "#444444", "align": "left", "baseline": "middle"},
     "encoding": {"x": {"datum": 15.89, "type": "quantitative"}, "y": {"datum": 82.6, "type": "quantitative"}}},
    {"data": {"values": [{}]}, "mark": {"type": "text", "text": "Events,", "fontSize": 29, "fontWeight": "bold", "color": "#1a1a1a", "align": "center", "baseline": "middle"},
     "encoding": {"x": {"datum": 21.74, "type": "quantitative"}, "y": {"datum": 100.1, "type": "quantitative"}}},
    {"data": {"values": [{}]}, "mark": {"type": "text", "text": "n (%)", "fontSize": 29, "fontWeight": "bold", "color": "#1a1a1a", "align": "center", "baseline": "middle"},
     "encoding": {"x": {"datum": 21.74, "type": "quantitative"}, "y": {"datum": 94.65, "type": "quantitative"}}},
    {"data": {"values": [{}]}, "mark": {"type": "text", "text": "Median OS,", "fontSize": 29, "fontWeight": "bold", "color": "#1a1a1a", "align": "center", "baseline": "middle"},
     "encoding": {"x": {"datum": 24.87, "type": "quantitative"}, "y": {"datum": 100.1, "type": "quantitative"}}},
    {"data": {"values": [{}]}, "mark": {"type": "text", "text": "months (95% CI)", "fontSize": 29, "fontWeight": "bold", "color": "#1a1a1a", "align": "center", "baseline": "middle"},
     "encoding": {"x": {"datum": 24.87, "type": "quantitative"}, "y": {"datum": 94.65, "type": "quantitative"}}},
    {"data": {"values": [{}]}, "mark": {"type": "text", "text": "Hazard Ratio", "fontSize": 29, "fontWeight": "bold", "color": "#1a1a1a", "align": "center", "baseline": "middle"},
     "encoding": {"x": {"datum": 28.56, "type": "quantitative"}, "y": {"datum": 99.8, "type": "quantitative"}}},
    {"data": {"values": [{}]}, "mark": {"type": "text", "text": "*", "fontSize": 16, "fontWeight": "bold", "color": "#1a1a1a", "align": "left", "baseline": "middle"},
     "encoding": {"x": {"datum": 29.84, "type": "quantitative"}, "y": {"datum": 101.6, "type": "quantitative"}}},
    {"data": {"values": [{}]}, "mark": {"type": "text", "text": "(95% CI)", "fontSize": 29, "fontWeight": "bold", "color": "#1a1a1a", "align": "center", "baseline": "middle"},
     "encoding": {"x": {"datum": 28.64, "type": "quantitative"}, "y": {"datum": 94.65, "type": "quantitative"}}},
    {"data": {"values": [{}]}, "mark": {"type": "text", "text": "P", "fontSize": 29, "fontWeight": "bold", "fontStyle": "italic", "color": "#1a1a1a", "align": "left", "baseline": "middle"},
     "encoding": {"x": {"datum": 30.42, "type": "quantitative"}, "y": {"datum": 94.65, "type": "quantitative"}}},
    {"data": {"values": [{}]}, "mark": {"type": "text", "text": "-value", "fontSize": 29, "fontWeight": "bold", "color": "#1a1a1a", "align": "left", "baseline": "middle"},
     "encoding": {"x": {"datum": 30.70, "type": "quantitative"}, "y": {"datum": 94.65, "type": "quantitative"}}},
    {"data": {"values": [{}]}, "mark": {"type": "text", "text": "†", "fontSize": 16, "color": "#1a1a1a", "align": "left", "baseline": "middle"},
     "encoding": {"x": {"datum": 32.02, "type": "quantitative"}, "y": {"datum": 96.0, "type": "quantitative"}}},
    {"data": {"values": [{}]}, "mark": {"type": "text", "text": "130 (47.4)", "fontSize": 26, "color": "#c4232e", "align": "center", "baseline": "middle"},
     "encoding": {"x": {"datum": 21.72, "type": "quantitative"}, "y": {"datum": 88.6, "type": "quantitative"}}},
    {"data": {"values": [{}]}, "mark": {"type": "text", "text": "161 (59.2)", "fontSize": 26, "color": "#444444", "align": "center", "baseline": "middle"},
     "encoding": {"x": {"datum": 21.72, "type": "quantitative"}, "y": {"datum": 82.3, "type": "quantitative"}}},
    {"data": {"values": [{}]}, "mark": {"type": "text", "text": "17.2 (13.9, 21.3)", "fontSize": 26, "fontWeight": "bold", "color": "#c4232e", "align": "center", "baseline": "middle"},
     "encoding": {"x": {"datum": 24.87, "type": "quantitative"}, "y": {"datum": 88.6, "type": "quantitative"}}},
    {"data": {"values": [{}]}, "mark": {"type": "text", "text": "12.6 (12.0, 14.4)", "fontSize": 26, "fontWeight": "bold", "color": "#444444", "align": "center", "baseline": "middle"},
     "encoding": {"x": {"datum": 24.87, "type": "quantitative"}, "y": {"datum": 82.3, "type": "quantitative"}}},
    {"data": {"values": [{}]}, "mark": {"type": "text", "text": "0.74 (0.59, 0.94)", "fontSize": 25, "color": "#222222", "align": "center", "baseline": "middle"},
     "encoding": {"x": {"datum": 28.64, "type": "quantitative"}, "y": {"datum": 85.7, "type": "quantitative"}}},
    {"data": {"values": [{}]}, "mark": {"type": "text", "text": "0.006", "fontSize": 38, "color": "#222222", "align": "center", "baseline": "middle"},
     "encoding": {"x": {"datum": 31.4, "type": "quantitative"}, "y": {"datum": 86.1, "type": "quantitative"}}},
    {"data": {"values": [{}]}, "mark": {"type": "text", "text": "Number at Risk", "fontSize": 26, "fontWeight": "bold", "color": "#111111", "align": "right", "baseline": "middle"},
     "encoding": {"x": {"datum": -1.42, "type": "quantitative"}, "y": {"datum": -12.1, "type": "quantitative"}}},
    {"data": {"values": [{}]}, "mark": {"type": "text", "text": "Tislelizumab+chemo", "fontSize": 26, "fontWeight": "bold", "color": "#c4232e", "align": "right", "baseline": "middle"},
     "encoding": {"x": {"datum": -2.14, "type": "quantitative"}, "y": {"datum": -17.45, "type": "quantitative"}}},
    {"data": {"values": [{}]}, "mark": {"type": "text", "text": "Placebo+chemo", "fontSize": 26, "fontWeight": "bold", "color": "#444444", "align": "right", "baseline": "middle"},
     "encoding": {"x": {"datum": -1.36, "type": "quantitative"}, "y": {"datum": -22.4, "type": "quantitative"}}},
    {"data": {"name": "risk"}, "transform": [{"filter": "datum.arm === 'Tislelizumab+chemo'"}],
     "mark": {"type": "text", "fontSize": 24, "color": "#222222", "align": "center", "baseline": "middle"},
     "encoding": {"x": {"field": "t", "type": "quantitative", "title": "Time (Months)"}, "y": {"datum": -17.45, "type": "quantitative"}, "text": {"field": "n", "type": "quantitative"}}},
    {"data": {"name": "risk"}, "transform": [{"filter": "datum.arm === 'Placebo+chemo'"}],
     "mark": {"type": "text", "fontSize": 24, "color": "#222222", "align": "center", "baseline": "middle"},
     "encoding": {"x": {"field": "t", "type": "quantitative", "title": "Time (Months)"}, "y": {"datum": -22.4, "type": "quantitative"}, "text": {"field": "n", "type": "quantitative"}}}
  ]
}
